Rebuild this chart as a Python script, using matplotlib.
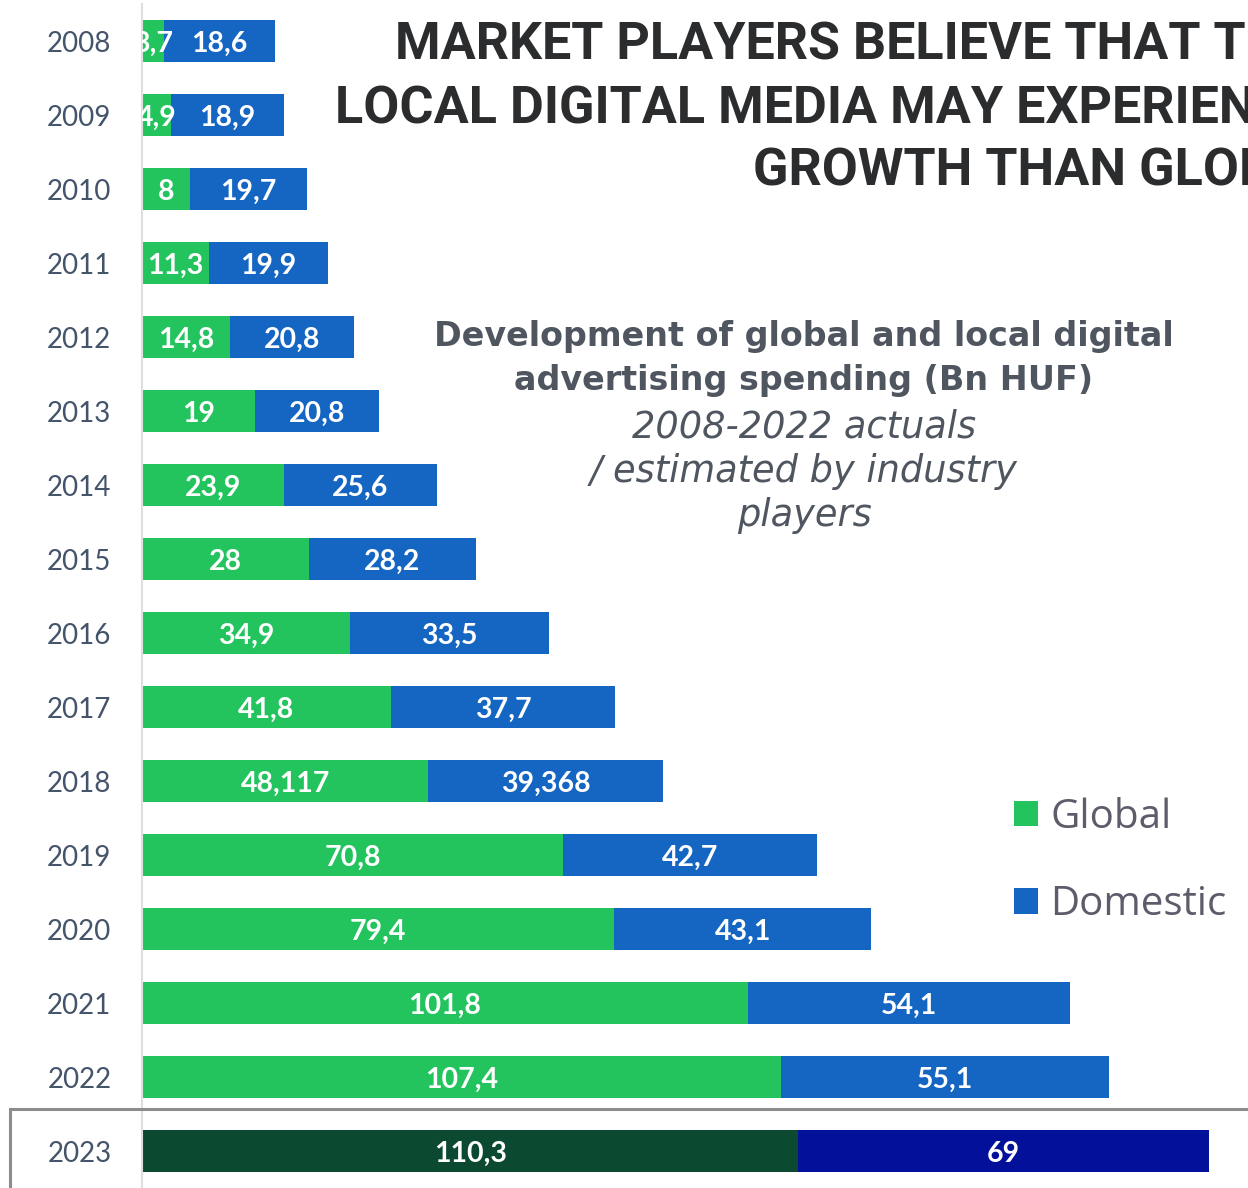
import matplotlib.pyplot as plt
from matplotlib.patches import Rectangle

years = ['2008', '2009', '2010', '2011', '2012', '2013', '2014', '2015',
         '2016', '2017', '2018', '2019', '2020', '2021', '2022', '2023']
global_spend = [3.7, 4.9, 8, 11.3, 14.8, 19, 23.9, 28, 34.9, 41.8, 48.117,
                70.8, 79.4, 101.8, 107.4, 110.3]
domestic_spend = [18.6, 18.9, 19.7, 19.9, 20.8, 20.8, 25.6, 28.2, 33.5, 37.7,
                  39.368, 42.7, 43.1, 54.1, 55.1, 69]

title_lines = ['MARKET PLAYERS BELIEVE THAT THE',
               'LOCAL DIGITAL MEDIA MAY EXPERIENCE FASTER',
               'GROWTH THAN GLOBAL ONES']
subtitle_bold = ['Development of global and local digital',
                 'advertising spending (Bn HUF)']
subtitle_italic = ['2008-2022 actuals', '/ estimated by industry', 'players']

GREEN = '#23c45e'
BLUE = '#1565c2'
DARK_GREEN = '#0b4a30'
NAVY = '#03109a'

W, H = 1248, 1188


def fmt(v):
    return f'{v:g}'.replace('.', ',')


fig = plt.figure(figsize=(W / 100, H / 100), dpi=100)
ax = fig.add_axes([142 / W, 0, 1 - 142 / W, 1184 / H])

# last year is a forecast, drawn in darker shades
g_colors = [GREEN] * (len(years) - 1) + [DARK_GREEN]
d_colors = [BLUE] * (len(years) - 1) + [NAVY]

pos = list(range(len(years)))
g_bars = ax.barh(pos, global_spend, height=0.58, color=g_colors, label='Global')
d_bars = ax.barh(pos, domestic_spend, left=global_spend, height=0.58,
                 color=d_colors, label='Domestic')

label_kw = dict(ha='center', va='center', color='white', fontsize=20.5,
                fontweight='bold', family='Lato', clip_on=True)
for i, (g, d) in enumerate(zip(global_spend, domestic_spend)):
    ax.text(g / 2, i + 0.04, fmt(g), **label_kw)
    ax.text(g + d / 2, i + 0.04, fmt(d), **label_kw)

ax.set_ylim(len(years) - 0.5, -0.5)
ax.set_xlim(0, (W - 142) / 5.95)
ax.set_yticks(pos)
ax.set_yticklabels(years, family='Lato', fontsize=20, color='#44546a')
ax.tick_params(axis='y', length=0, pad=22)
ax.set_xticks([])
for side in ['top', 'right', 'bottom']:
    ax.spines[side].set_visible(False)
ax.spines['left'].set_color('#dedede')
ax.spines['left'].set_linewidth(1.5)

# frame around the forecast row
fig.patches.append(Rectangle((10 / W, -0.2), 2, 0.2 + (H - 1109) / H,
                             transform=fig.transFigure, fill=False,
                             edgecolor='#8c8c8c', linewidth=2.2))

title_x = [395, 335, 753]
title_base = [60, 123, 186]
for txt, x, y in zip(title_lines, title_x, title_base):
    fig.text(x / W, 1 - y / H, txt, ha='left', va='baseline',
             family='Roboto', fontweight='bold', fontsize=37.5,
             color='#2b2c2e')

sub_base = [346, 390, 437, 482, 526]
for txt, y in zip(subtitle_bold, sub_base[:2]):
    fig.text(804 / W, 1 - y / H, txt, ha='center', va='baseline',
             family='DejaVu Sans', fontweight='bold', fontsize=24,
             color='#4f5660')
for txt, y in zip(subtitle_italic, sub_base[2:]):
    fig.text(804 / W, 1 - y / H, txt, ha='center', va='baseline',
             family='DejaVu Sans', style='oblique', fontsize=26.5,
             color='#4f5660')

leg = ax.legend(handles=[g_bars, d_bars], loc='upper left',
                bbox_to_anchor=(1014 / W, 1 - 797 / H),
                bbox_transform=fig.transFigure, frameon=False,
                borderpad=0, borderaxespad=0, handlelength=0.6,
                handleheight=0.6, handletextpad=0.3, labelspacing=1.17,
                prop={'family': 'Open Sans', 'size': 29})
for t in leg.get_texts():
    t.set_color('#5c5c6b')

fig.savefig('out.png', dpi=100)
